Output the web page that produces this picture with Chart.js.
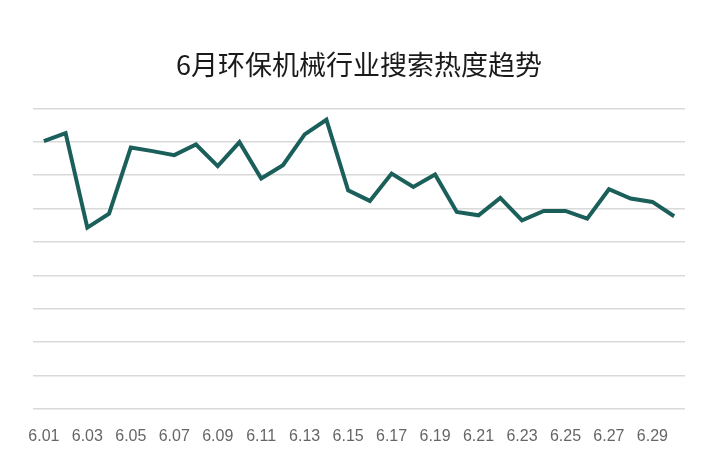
<!DOCTYPE html>
<html>
<head>
<meta charset="utf-8">
<script src="https://cdn.jsdelivr.net/npm/chart.js@4/dist/chart.umd.min.js"></script>
<style>
    html, body { margin: 0; padding: 0; background: #fff; }
    #wrap { width: 709px; height: 454px; }
</style>
</head>
<body>
<div id="wrap"><canvas id="trend-chart" width="709" height="454"></canvas></div>
<script>
// 日期
const days = [
    "6.01", "6.02", "6.03", "6.04", "6.05", "6.06", "6.07", "6.08", "6.09", "6.10",
    "6.11", "6.12", "6.13", "6.14", "6.15", "6.16", "6.17", "6.18", "6.19", "6.20",
    "6.21", "6.22", "6.23", "6.24", "6.25", "6.26", "6.27", "6.28", "6.29", "6.30"
];

// 搜索热度
const heat = [
    80.2, 82.6, 54.3, 58.5, 78.3, 77.2, 76.0, 79.2, 72.7, 79.9,
    69.0, 73.0, 82.2, 86.6, 65.5, 62.3, 70.5, 66.5, 70.2, 59.0,
    58.0, 63.2, 56.5, 59.3, 59.3, 57.0, 65.8, 63.0, 62.0, 57.7
];

const lineColor = "#1b5f5b";

const ctx = document.getElementById("trend-chart").getContext("2d");
new Chart(ctx, {
    type: "line",
    data: {
        labels: days,
        datasets: [{
            data: heat,
            borderColor: lineColor,
            borderWidth: 4,
            pointRadius: 0,
            tension: 0,
            fill: false
        }]
    },
    options: {
        responsive: false,
        animation: false,
        layout: {
            padding: { left: 33, right: 24, top: 0, bottom: 0 }
        },
        plugins: {
            legend: { display: false },
            tooltip: { enabled: false },
            title: {
                display: true,
                text: "6月环保机械行业搜索热度趋势",
                color: "#1a1a1a",
                font: { family: "'Noto Sans CJK SC', sans-serif", size: 27, weight: "normal" },
                padding: { top: 49, bottom: 27 }
            }
        },
        scales: {
            x: {
                offset: true,
                grid: { display: false, drawTicks: false },
                border: { display: false },
                afterFit: (scale) => { scale.height = 45; },
                ticks: {
                    autoSkip: false,
                    maxRotation: 0,
                    padding: 18,
                    color: "#666",
                    font: { family: "'Liberation Sans', Arial, sans-serif", size: 16 },
                    // 每隔一天显示
                    callback: (v, i) => (i % 2 === 0 ? days[i] : "")
                }
            },
            y: {
                min: 0,
                max: 90,
                ticks: { stepSize: 10, display: false },
                border: { display: false },
                grid: { color: "#d9d9d9", lineWidth: 1.5, drawTicks: false }
            }
        }
    }
});
</script>
</body>
</html>
